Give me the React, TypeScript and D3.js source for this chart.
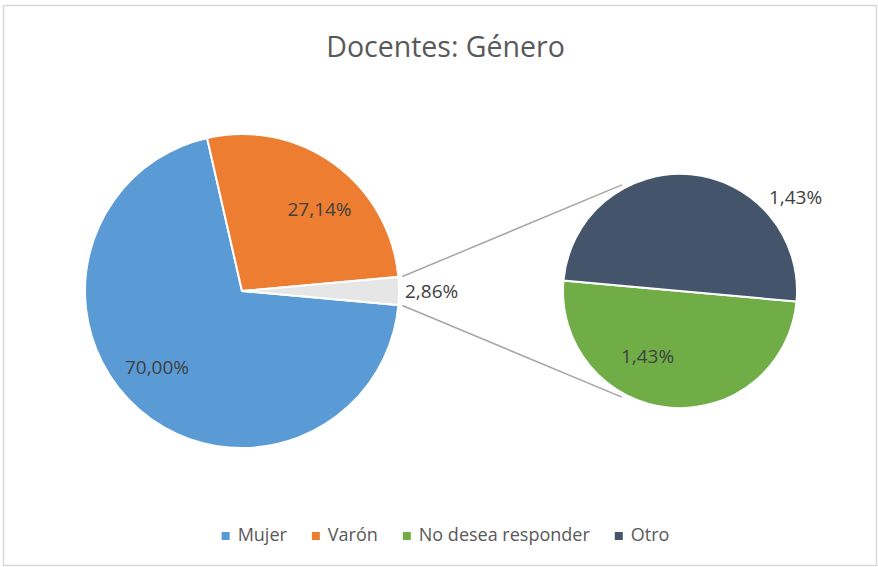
import React from "react";
import * as d3 from "d3";

const categories = ["Mujer", "Varón", "No desea responder", "Otro"];
const values = [70.0, 27.14, 1.43, 1.43];
const colors = ["#5B9BD5", "#ED7D31", "#70AD47", "#44546A"];
const otherColor = "#E7E6E6";
const title = "Docentes: Género";

const W = 878;
const H = 567;
const FONT = "'Open Sans', 'Noto Sans', sans-serif";

const fmt = (v: number) => d3.format(".2f")(v).replace(".", ",") + "%";

export default function App() {
  // main pie: first two categories + combined "other"
  const mainVals = [values[0], values[1], values[2] + values[3]];
  const mainColors = [colors[0], colors[1], otherColor];
  const total = d3.sum(mainVals);
  const otherAngle = (mainVals[2] / total) * 2 * Math.PI;
  const start = Math.PI / 2 + otherAngle / 2;

  const mc = { x: 242, y: 291 };
  const mr = 157;
  const sc = { x: 680, y: 291 };
  const sr = 117;

  const mainPie = d3
    .pie<number>()
    .sort(null)
    .value((d) => d)
    .startAngle(start)
    .endAngle(start + 2 * Math.PI)(mainVals);

  const secVals = [values[2], values[3]];
  const secColors = [colors[2], colors[3]];
  const secPie = d3
    .pie<number>()
    .sort(null)
    .value((d) => d)
    .startAngle(start)
    .endAngle(start + 2 * Math.PI)(secVals);

  const mainArc = d3.arc<d3.PieArcDatum<number>>().innerRadius(0).outerRadius(mr);
  const secArc = d3.arc<d3.PieArcDatum<number>>().innerRadius(0).outerRadius(sr);
  const mainLabelArc = d3
    .arc<d3.PieArcDatum<number>>()
    .innerRadius(mr * 0.72)
    .outerRadius(mr * 0.72);
  const secLabelArc = d3
    .arc<d3.PieArcDatum<number>>()
    .innerRadius(sr * 0.62)
    .outerRadius(sr * 0.62);

  const mainOffsets = [
    [-10.6, -2.1],
    [11.1, 16.4],
  ];
  const secOffsets = [
    [-26, 0],
    [109, -15],
  ];

  const polar = (c: { x: number; y: number }, r: number, a: number) => [
    c.x + r * Math.sin(a),
    c.y - r * Math.cos(a),
  ];

  const o = mainPie[2];
  const p1 = polar(mc, mr + 4, o.startAngle);
  const p2 = polar(mc, mr + 4, o.endAngle);
  const q1 = polar(sc, sr + 4, (-28.7 * Math.PI) / 180);
  const q2 = polar(sc, sr + 4, (208.7 * Math.PI) / 180);
  const grayLabel = polar(mc, mr, (o.startAngle + o.endAngle) / 2);

  // legend layout
  let ctx: CanvasRenderingContext2D | null = null;
  try {
    ctx = document.createElement("canvas").getContext("2d");
  } catch (e) {
    ctx = null;
  }
  const legendFont = 18;
  if (ctx) ctx.font = `${legendFont}px ${FONT}`;
  const widths = categories.map((c) =>
    ctx ? ctx.measureText(c).width : c.length * legendFont * 0.5
  );
  const sq = 8;
  const sqGap = 8;
  const itemGap = 25;
  const itemW = widths.map((w) => sq + sqGap + w);
  const totalW = d3.sum(itemW) + itemGap * (categories.length - 1);
  const legendCx = 445.5;
  let lx = legendCx - totalW / 2;
  const legendX = itemW.map((w) => {
    const x = lx;
    lx += w + itemGap;
    return x;
  });

  return (
    <svg
      width={W}
      height={H}
      style={{ position: "absolute", left: 0, top: 0, background: "#fff" }}
      fontFamily={FONT}
    >
      <rect x={0} y={0} width={W} height={H} fill="#fff" />
      <rect
        x={3.5}
        y={5.5}
        width={873}
        height={560}
        fill="#fff"
        stroke="#D9D9D9"
        strokeWidth={1.5}
      />
      <text x={445.5} y={57} textAnchor="middle" fontSize={28.5} fill="#595959">
        {title}
      </text>

      {/* connector lines */}
      <line x1={p1[0]} y1={p1[1]} x2={q1[0]} y2={q1[1]} stroke="#A6A6A6" strokeWidth={1.5} />
      <line x1={p2[0]} y1={p2[1]} x2={q2[0]} y2={q2[1]} stroke="#A6A6A6" strokeWidth={1.5} />

      <g transform={`translate(${mc.x},${mc.y})`}>
        {mainPie.map((d, i) => (
          <path key={i} d={mainArc(d) || ""} fill={mainColors[i]} stroke="#fff" strokeWidth={2} />
        ))}
      </g>
      <g transform={`translate(${sc.x},${sc.y})`}>
        {secPie.map((d, i) => (
          <path key={i} d={secArc(d) || ""} fill={secColors[i]} stroke="#fff" strokeWidth={2} />
        ))}
      </g>

      {/* labels */}
      {mainPie.slice(0, 2).map((d, i) => {
        const c = mainLabelArc.centroid(d);
        return (
          <text
            key={i}
            x={mc.x + c[0] + mainOffsets[i][0]}
            y={mc.y + c[1] + mainOffsets[i][1]}
            textAnchor="middle"
            fontSize={19}
            fill="#404040"
          >
            {fmt(values[i])}
          </text>
        );
      })}
      <text x={grayLabel[0] + 6} y={grayLabel[1] + 7} textAnchor="start" fontSize={19} fill="#404040">
        {fmt(mainVals[2])}
      </text>
      {secPie.map((d, i) => {
        const c = secLabelArc.centroid(d);
        return (
          <text
            key={i}
            x={sc.x + c[0] + secOffsets[i][0]}
            y={sc.y + c[1] + secOffsets[i][1]}
            textAnchor="middle"
            fontSize={19}
            fill="#404040"
          >
            {fmt(secVals[i])}
          </text>
        );
      })}

      {/* legend */}
      {categories.map((c, i) => (
        <g key={c}>
          <rect x={legendX[i]} y={532} width={sq} height={sq} fill={colors[i]} />
          <text x={legendX[i] + sq + sqGap} y={541} fontSize={legendFont} fill="#595959">
            {c}
          </text>
        </g>
      ))}
    </svg>
  );
}
